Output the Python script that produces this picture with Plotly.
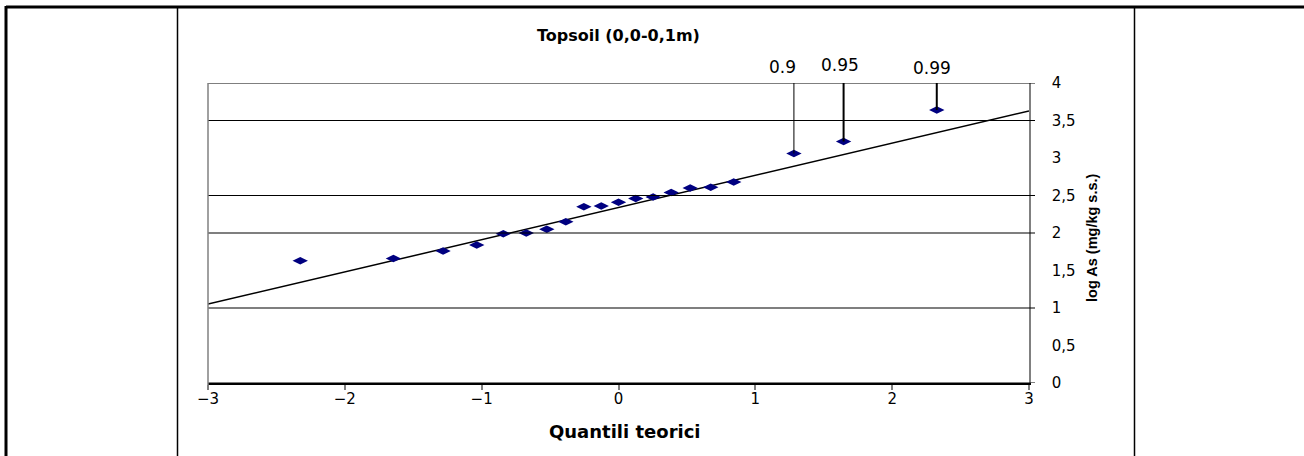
import plotly.graph_objects as go

# Theoretical normal quantiles and observed log As values (topsoil)
theoretical_q = [-2.326, -1.645, -1.282, -1.036, -0.842, -0.674, -0.524, -0.385,
                 -0.253, -0.126, 0.0, 0.126, 0.253, 0.385, 0.524, 0.674, 0.842,
                 1.282, 1.645, 2.326]
log_as = [1.63, 1.66, 1.76, 1.84, 1.99, 2.00, 2.05, 2.15,
          2.35, 2.36, 2.41, 2.46, 2.48, 2.54, 2.60, 2.61, 2.68,
          3.06, 3.22, 3.64]

# Fitted reference line
fit_intercept = 2.34
fit_slope = 0.4295
fit_x = [-3, 3]

# Highlighted upper quantiles
flag_labels = ["0.9", "0.95", "0.99"]
flag_q = [1.282, 1.645, 2.326]
flag_vals = [3.06, 3.22, 3.64]

x_ticks = [-3, -2, -1, 0, 1, 2, 3]
y_ticks = [0, 0.5, 1, 1.5, 2, 2.5, 3, 3.5, 4]
grid_levels = [0, 1, 2, 2.5, 3.5, 4]

W, H = 1304, 456
L, R, T, B = 208, 1029, 83, 383


def px(xp):
    return (xp - L) / (R - L)


def py(yp):
    return (B - yp) / (B - T)


FONT = "DejaVu Sans"

fig = go.Figure()

fig.add_trace(go.Scatter(
    x=fit_x, y=[fit_intercept + fit_slope * v for v in fit_x],
    mode="lines", line=dict(color="black", width=1.5),
    hoverinfo="skip", showlegend=False,
))

fig.add_trace(go.Scatter(
    x=theoretical_q, y=log_as, mode="markers",
    marker=dict(symbol="diamond-wide", size=11, color="#000080",
                line=dict(width=0)),
    showlegend=False,
))

shapes = []
# horizontal grid lines, running slightly past the right axis
for g in grid_levels:
    shapes.append(dict(type="line", xref="paper", yref="y",
                       x0=0, x1=px(1035), y0=g, y1=g,
                       line=dict(color="black", width=1.2)))

# leader lines from the flagged points up to the top of the plot
for q, v, w in zip(flag_q, flag_vals, [1, 2, 2]):
    shapes.append(dict(type="line", xref="x", yref="y",
                       x0=q, x1=q, y0=v, y1=4,
                       line=dict(color="black", width=w)))

# outer page frame
shapes += [
    dict(type="line", xref="paper", yref="paper",
         x0=px(6), x1=px(1304), y0=py(7), y1=py(7),
         line=dict(color="black", width=3)),
    dict(type="line", xref="paper", yref="paper",
         x0=px(6), x1=px(6), y0=py(6), y1=py(456),
         line=dict(color="black", width=3)),
    dict(type="line", xref="paper", yref="paper",
         x0=px(177.5), x1=px(177.5), y0=py(7), y1=py(456),
         line=dict(color="black", width=1.5)),
    dict(type="line", xref="paper", yref="paper",
         x0=px(1134.5), x1=px(1134.5), y0=py(7), y1=py(456),
         line=dict(color="black", width=1.5)),
    # left plot border
    dict(type="line", xref="paper", yref="paper",
         x0=0, x1=0, y0=py(390), y1=1,
         line=dict(color="#808080", width=1.5)),
]

annotations = []
for lab, q, xs, yp in zip(flag_labels, flag_q, [-11, -4, -5], [67, 65, 68]):
    annotations.append(dict(text=lab, x=q, xref="x", y=py(yp), yref="paper",
                            xshift=xs, showarrow=False, yanchor="middle",
                            font=dict(family=FONT, size=17, color="black")))

annotations += [
    dict(text="<b>Topsoil (0,0-0,1m)</b>", x=px(618), y=py(35),
         xref="paper", yref="paper", showarrow=False, yanchor="middle",
         font=dict(family=FONT, size=16, color="black")),
    dict(text="<b>Quantili teorici</b>", x=px(625), y=py(431),
         xref="paper", yref="paper", showarrow=False, yanchor="middle",
         font=dict(family=FONT, size=18, color="black")),
    dict(text="<b>log As (mg/kg s.s.)</b>", x=px(1092), y=py(238),
         xref="paper", yref="paper", showarrow=False, textangle=-90,
         xanchor="center", yanchor="middle",
         font=dict(family="Liberation Sans", size=14.5, color="black")),
]

fig.update_layout(
    width=W, height=H,
    margin=dict(l=L, r=W - R, t=T, b=H - B, pad=0),
    paper_bgcolor="white", plot_bgcolor="white",
    separators=",.",
    shapes=shapes, annotations=annotations,
    xaxis=dict(range=[-3, 3], tickvals=x_ticks, showgrid=False,
               zeroline=False, showline=True, linecolor="black", linewidth=1.5,
               ticks="outside", ticklen=5, tickcolor="#808080", tickwidth=1.5,
               tickfont=dict(family=FONT, size=15, color="black"),
               ticklabelstandoff=-4),
    yaxis=dict(range=[0, 4], tickvals=y_ticks, side="right", showgrid=False,
               zeroline=False, showline=True, linecolor="#808080",
               linewidth=1.5, ticks="",
               tickfont=dict(family=FONT, size=15, color="black"),
               ticklabelstandoff=18),
)

fig.write_html("out.html")
